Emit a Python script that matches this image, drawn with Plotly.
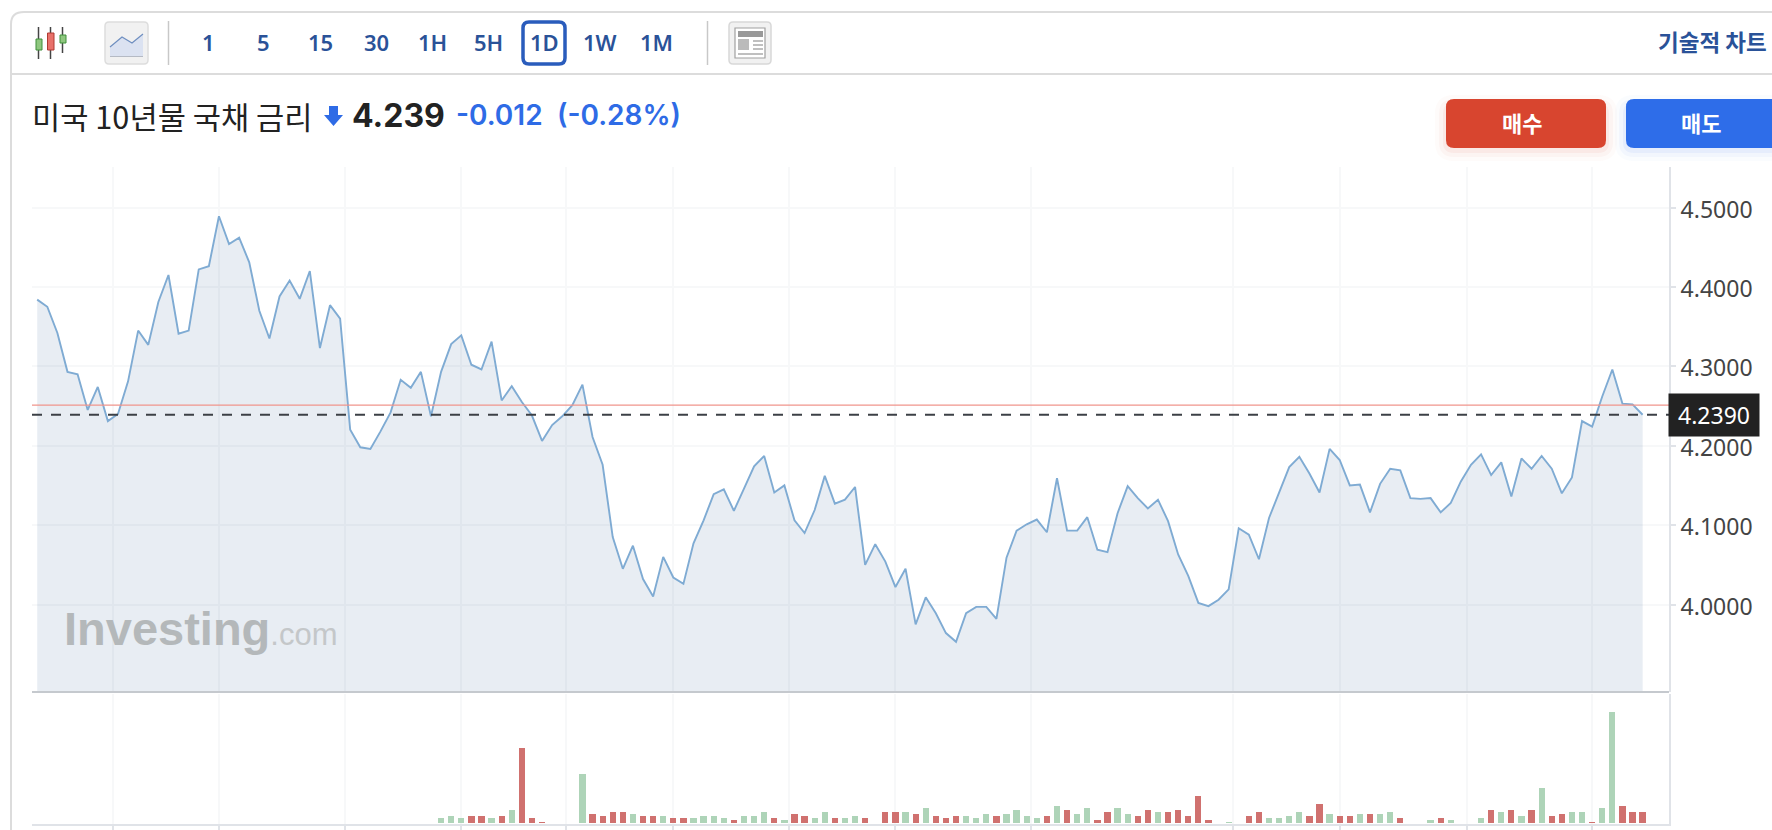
import plotly.graph_objects as go

# Daily closes of the US 10-year Treasury yield
yield_close = [
    4.384, 4.375, 4.342, 4.293, 4.290, 4.245, 4.274, 4.231, 4.240, 4.281,
    4.345, 4.327, 4.381, 4.415, 4.341, 4.345, 4.422, 4.426, 4.489, 4.454,
    4.462, 4.431, 4.370, 4.335, 4.388, 4.408, 4.385, 4.420, 4.323, 4.377,
    4.360, 4.220, 4.198, 4.196, 4.218, 4.242, 4.283, 4.273, 4.293, 4.237,
    4.293, 4.328, 4.339, 4.302, 4.296, 4.331, 4.257, 4.275, 4.255, 4.238,
    4.206, 4.226, 4.237, 4.251, 4.277, 4.211, 4.176, 4.085, 4.045, 4.074,
    4.032, 4.010, 4.060, 4.034, 4.026, 4.077, 4.106, 4.139, 4.145, 4.118,
    4.146, 4.174, 4.187, 4.141, 4.150, 4.106, 4.090, 4.119, 4.162, 4.127,
    4.132, 4.148, 4.050, 4.076, 4.054, 4.022, 4.045, 3.975, 4.009, 3.989,
    3.964, 3.953, 3.989, 3.997, 3.997, 3.982, 4.059, 4.093, 4.101, 4.107,
    4.091, 4.159, 4.093, 4.093, 4.110, 4.069, 4.066, 4.115, 4.149, 4.134,
    4.121, 4.132, 4.105, 4.063, 4.036, 4.002, 3.998, 4.006, 4.019, 4.096,
    4.088, 4.057, 4.109, 4.140, 4.173, 4.186, 4.165, 4.141, 4.196, 4.182,
    4.150, 4.151, 4.116, 4.152, 4.171, 4.169, 4.134, 4.133, 4.134, 4.116,
    4.128, 4.155, 4.176, 4.189, 4.163, 4.179, 4.136, 4.184, 4.171, 4.187,
    4.171, 4.140, 4.160, 4.231, 4.224, 4.262, 4.296, 4.253, 4.252, 4.239,
]
volume = [
    0, 0, 0, 0, 0, 0, 0, 0, 0, 0,
    0, 0, 0, 0, 0, 0, 0, 0, 0, 0,
    0, 0, 0, 0, 0, 0, 0, 0, 0, 0,
    0, 0, 0, 0, 0, 0, 0, 0, 0, 0,
    5, 7, 5, 7, 7, 5, 7, 13, 75, 5,
    1, 0, 0, 0, 49, 9, 7, 11, 11, 9,
    7, 7, 7, 5, 5, 5, 7, 7, 5, 3,
    7, 7, 11, 5, 3, 9, 7, 5, 11, 5,
    5, 7, 5, 0, 11, 11, 11, 9, 15, 7,
    5, 7, 7, 5, 9, 7, 9, 13, 7, 5,
    7, 17, 13, 9, 15, 3, 11, 15, 9, 7,
    13, 11, 11, 13, 7, 27, 3, 0, 1, 0,
    7, 11, 5, 5, 7, 11, 7, 19, 9, 7,
    7, 9, 9, 9, 11, 5, 0, 0, 3, 5,
    3, 0, 0, 5, 13, 11, 13, 7, 13, 35,
    7, 9, 11, 11, 1, 15, 111, 17, 11, 11,
]
# Sessions whose volume bar is drawn in the rising colour
rising_sessions = [
    40, 41, 42, 45, 47, 54, 59, 62, 65, 66, 67, 68, 70, 71, 72, 74, 77, 78,
    80, 81, 86, 88, 92, 93, 94, 96, 97, 98, 99, 101, 103, 104, 107, 108,
    111, 118, 122, 123, 124, 125, 128, 131, 133, 134, 138, 140, 143, 145,
    147, 149, 152, 153, 155, 156,
]
time_gridlines = [7.5, 18, 30.5, 42, 52.4, 63, 74.5, 85, 98.4, 118.4, 129, 141.6, 154]
yield_ticks = [4.0, 4.1, 4.2, 4.3, 4.4, 4.5]
last_price = 4.239
previous_close = 4.251
intervals = ["1", "5", "15", "30", "1H", "5H", "1D", "1W", "1M"]

W, H = 1772, 830
LEFT, RIGHT, TOP, BOTTOM = 32, 1669, 167, 824
PANEL_BOTTOM, VOL_TOP = 692, 694
GRID = "#f7f8f9"
AXIS = "#e0e3e8"
NAVY = "#2a5298"
BLUE = "#2e6be6"
KR = "Noto Sans CJK KR"


def px(x):
    return (x - LEFT) / (RIGHT - LEFT)


def py(y):
    return (BOTTOM - y) / (BOTTOM - TOP)


shapes = []
annotations = []


def line(x0, y0, x1, y1, color, width=1):
    shapes.append(dict(type="line", xref="paper", yref="paper",
                       x0=px(x0), y0=py(y0), x1=px(x1), y1=py(y1),
                       line=dict(color=color, width=width)))


def rect(x0, y0, x1, y1, fill, border=None, width=1):
    shapes.append(dict(type="rect", xref="paper", yref="paper",
                       x0=px(x0), y0=py(y0), x1=px(x1), y1=py(y1),
                       fillcolor=fill, line=dict(color=border or fill, width=width if border else 0)))


def rounded(x0, y0, x1, y1, r, fill, border=None, width=1, opacity=1):
    def P(x, y):
        return f"{px(x)},{py(y)}"
    path = (f"M {P(x0 + r, y0)} L {P(x1 - r, y0)} Q {P(x1, y0)} {P(x1, y0 + r)} "
            f"L {P(x1, y1 - r)} Q {P(x1, y1)} {P(x1 - r, y1)} L {P(x0 + r, y1)} "
            f"Q {P(x0, y1)} {P(x0, y1 - r)} L {P(x0, y0 + r)} Q {P(x0, y0)} {P(x0 + r, y0)} Z")
    shapes.append(dict(type="path", xref="paper", yref="paper", path=path,
                       fillcolor=fill, opacity=opacity,
                       line=dict(color=border or "rgba(0,0,0,0)", width=width if border else 0)))


def poly(points, fill, border=None, width=1):
    path = "M " + " L ".join(f"{px(x)},{py(y)}" for x, y in points) + " Z"
    shapes.append(dict(type="path", xref="paper", yref="paper", path=path, fillcolor=fill,
                       line=dict(color=border or "rgba(0,0,0,0)", width=width if border else 0)))


def text(x, y, s, size, color, anchor="left", font=KR, weight="normal"):
    annotations.append(dict(xref="paper", yref="paper", x=px(x), y=py(y), text=s,
                            showarrow=False, xanchor=anchor, yanchor="middle", borderpad=0,
                            font=dict(family=font, size=size, color=color, weight=weight)))


# Card outline and toolbar divider
line(11, 24, 11, 830, "#dcdcdc", 2)
line(24, 12, W, 12, "#dcdcdc", 2)
shapes.append(dict(type="path", xref="paper", yref="paper",
                   path=f"M {px(11)},{py(24)} Q {px(11)},{py(12)} {px(24)},{py(12)}",
                   line=dict(color="#dcdcdc", width=2)))
line(11, 74, W, 74, "#dcdcdc", 2)

# Candlestick icon
for x, y0, y1 in [(38.5, 27, 59), (50.5, 27, 59), (62.5, 27, 53)]:
    line(x, y0, x, y1, "#444444", 1.5)
rect(36, 39, 42, 50, "#8fc77f", "#3f8f3a", 1)
rect(47.5, 33, 54, 50, "#e8716a", "#b03a32", 1)
rect(60, 35, 66, 43, "#8fc77f", "#3f8f3a", 1)

# Area chart toggle
rounded(105, 22, 148, 64, 4, "#f1f1f1", "#dddddd", 1.5)
poly([(110, 47), (122, 37), (132, 43), (143, 34), (143, 56), (110, 56)], "#dbe2f1")
shapes.append(dict(type="path", xref="paper", yref="paper",
                   path=f"M {px(110)},{py(47)} L {px(122)},{py(37)} L {px(132)},{py(43)} L {px(143)},{py(34)}",
                   line=dict(color="#6f8fc0", width=1.2)))
line(110, 56.5, 143, 56.5, "#b5bac4", 1)
line(168.5, 21, 168.5, 65, "#c8c8c8", 1.5)

# Interval selector
interval_x = [208, 263, 320, 376, 432, 488, 544, 600, 656]
rounded(523, 22, 565, 64, 6, "#ffffff", "#2a5cbc", 3.5)
for label, x in zip(intervals, interval_x):
    text(x, 42, label, 22, NAVY, "center", "Noto Sans", 600)
line(707.5, 21, 707.5, 65, "#c8c8c8", 1.5)

# News layout icon
rounded(729, 22, 771, 64, 4, "#f1f1f1", "#d8d8d8", 1.5)
rect(735, 28, 765, 58, "#ffffff", "#a0a0a0", 1.2)
rect(738, 31, 763, 37, "#999999")
rect(738, 39, 749, 50, "#bbbbbb")
for y in (41, 45, 49):
    line(753, y, 763, y, "#aaaaaa", 1.5)
line(738, 54, 763, 54, "#aaaaaa", 1.5)

text(1768, 41, "기술적 차트", 22.5, NAVY, "right", KR, "bold")

# Instrument headline
text(31, 115, "미국 10년물 국채 금리", 30.7, "#222222")
poly([(329, 106), (338, 106), (338, 115), (343, 115), (333.5, 126), (324, 115), (329, 115)], BLUE)
text(351, 115, "4.239", 32, "#222222", "left", "Inter", "bold")
text(455, 115, "-0.012", 28, BLUE, "left", "Inter", 600)
text(556, 115, "(-0.28%)", 28, BLUE, "left", "Inter", 600)

# Order buttons with a soft glow underneath
for grow, alpha in [(11, 0.025), (7, 0.04), (3, 0.06)]:
    rounded(1446 - grow, 106 - grow, 1606 + grow, 150 + grow, 8 + grow, "#d8452f", opacity=alpha)
    rounded(1626 - grow, 106 - grow, 1790 + grow, 150 + grow, 8 + grow, "#2e6de9", opacity=alpha)
rounded(1446, 99, 1606, 148, 8, "#d8452f")
rounded(1626, 99, 1790, 148, 8, "#2e6de9")
text(1522, 122, "매수", 22, "#ffffff", "center", KR, "bold")
text(1701, 122, "매도", 22, "#ffffff", "center", KR, "bold")

# Panel separator between price and volume
line(LEFT, 692, RIGHT, 692, "#c5c9ce", 2)

# Reference levels: previous close and last price
shapes.append(dict(type="line", xref="x domain", yref="y", x0=0, x1=1,
                   y0=previous_close, y1=previous_close,
                   line=dict(color="#f0958c", width=1.2), layer="above"))
shapes.append(dict(type="line", xref="x domain", yref="y", x0=0, x1=1,
                   y0=last_price, y1=last_price,
                   line=dict(color="#3c4046", width=2, dash="10px,9px"), layer="above"))

# Last price flag on the axis
annotations.append(dict(xref="paper", yref="y", x=px(1668), y=last_price,
                        text=f"{last_price:.4f}", showarrow=False, xanchor="left", yanchor="middle",
                        bgcolor="#222222", borderpad=5, width=80, align="center",
                        font=dict(family="Noto Sans", size=23, color="#ffffff")))

# Brand watermark
annotations.append(dict(xref="paper", yref="paper", x=px(62), y=py(628),
                        text="<b>Investing</b><span style='font-size:31px;color:#c4c7c9'>.com</span>",
                        showarrow=False, xanchor="left", yanchor="middle",
                        font=dict(family="Liberation Sans", size=47, color="#b4b8ba")))

sessions = list(range(len(yield_close)))
rising = set(rising_sessions)
bar_colors = ["#aed4b8" if i in rising else "#d0716f" for i in sessions]

fig = go.Figure()
fig.add_trace(go.Scatter(x=sessions, y=yield_close, mode="lines", fill="tozeroy",
                         fillcolor="rgba(29,78,137,0.10)",
                         line=dict(color="#7fabd3", width=1.9),
                         hoverinfo="skip", xaxis="x", yaxis="y"))
fig.add_trace(go.Bar(x=sessions, y=volume, marker=dict(color=bar_colors, line=dict(width=0)),
                     width=0.62, hoverinfo="skip", xaxis="x2", yaxis="y2"))

x_range = [(LEFT - 37.2) / 10.097, (RIGHT - 37.2) / 10.097]
y_top = 4.5 + (207.5 - TOP) / 794
y_bottom = 4.5 - (PANEL_BOTTOM - 207.5) / 794
plot_h = BOTTOM - TOP

fig.update_layout(
    width=W, height=H, autosize=False, showlegend=False,
    margin=dict(l=LEFT, r=W - RIGHT, t=TOP, b=0, pad=0),
    paper_bgcolor="#ffffff", plot_bgcolor="#ffffff", bargap=0,
    shapes=shapes, annotations=annotations,
    xaxis=dict(domain=[0, 1], range=x_range, anchor="y", tickmode="array", tickvals=time_gridlines,
               showticklabels=False, ticks="", showgrid=True, gridcolor=GRID, gridwidth=2,
               zeroline=False, showline=False),
    yaxis=dict(domain=[(BOTTOM - PANEL_BOTTOM) / plot_h, 1], range=[y_bottom, y_top], side="right",
               anchor="x", tickmode="array", tickvals=yield_ticks, tickformat=".4f",
               ticks="outside", ticklen=5, tickcolor=AXIS, tickwidth=1.5, ticklabelshift=2,
               showgrid=True, gridcolor=GRID, gridwidth=2, zeroline=False,
               showline=True, linecolor=AXIS, linewidth=2,
               tickfont=dict(family="Noto Sans", size=23, color="#444444")),
    xaxis2=dict(domain=[0, 1], range=x_range, anchor="y2", tickmode="array", tickvals=time_gridlines,
                showticklabels=False, ticks="outside", ticklen=6, tickcolor=AXIS, tickwidth=2,
                showgrid=True, gridcolor=GRID, gridwidth=2, zeroline=False,
                showline=True, linecolor=AXIS, linewidth=2),
    yaxis2=dict(domain=[0, (BOTTOM - VOL_TOP) / plot_h], range=[-1, BOTTOM - VOL_TOP - 1], side="right",
                anchor="x2", showticklabels=False, ticks="", showgrid=False, zeroline=False,
                showline=True, linecolor=AXIS, linewidth=2),
)

fig.write_html("out.html", config={"displayModeBar": False})
